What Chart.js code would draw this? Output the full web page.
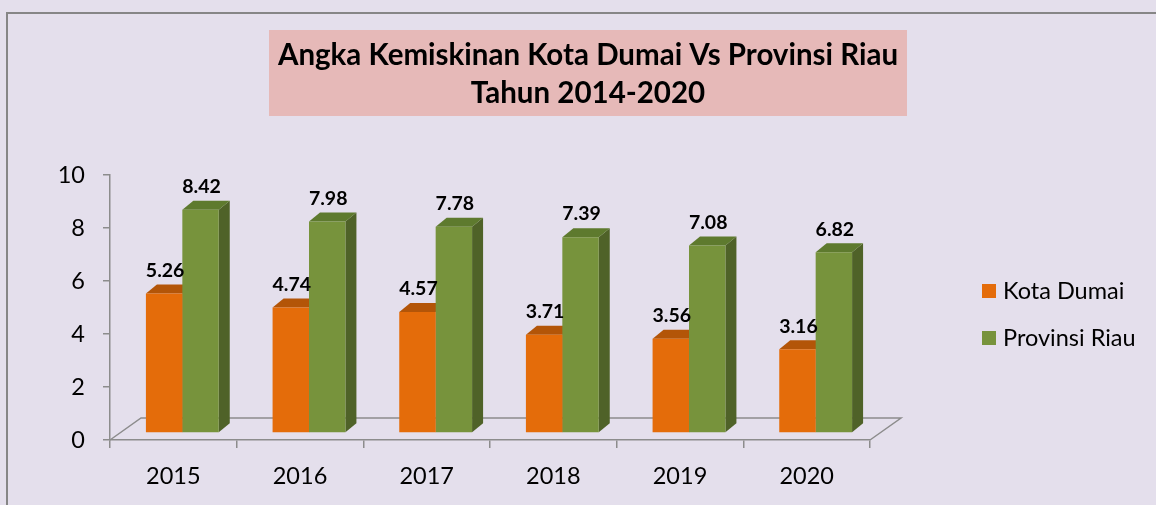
<!DOCTYPE html>
<html>
<head>
<meta charset="utf-8">
<script src="https://cdn.jsdelivr.net/npm/chart.js@4.4.1/dist/chart.umd.min.js"></script>
<style>
  html, body { margin: 0; padding: 0; background: #ffffff; }
  #wrap { width: 1156px; height: 505px; }
</style>
</head>
<body>
<div id="wrap"><canvas id="povertyChart" width="1156" height="505"></canvas></div>
<script>
const categories = ['2015', '2016', '2017', '2018', '2019', '2020'];
const kotaDumai = [5.26, 4.74, 4.57, 3.71, 3.56, 3.16];
const provinsiRiau = [8.42, 7.98, 7.78, 7.39, 7.08, 6.82];
const yTicks = [0, 2, 4, 6, 8, 10];
const seriesNames = ['Kota Dumai', 'Provinsi Riau'];
const titleLines = ['Angka Kemiskinan Kota Dumai Vs Provinsi Riau', 'Tahun 2014-2020'];

const FONT = 'Lato, "Open Sans", sans-serif';
const BG = '#E4DFEC';
const AXIS = '#8C8C8C';

// face colours for the fake 3d bars: [front, top, side]
const faceColors = [
    ['#E46C0A', '#B35508', '#A44E08'],
    ['#77933C', '#5E7A2E', '#4F6228']
];

// bar offset into the depth of the floor, and the bar's own depth
const shift = { x: 9, y: -7 };
const depth = { x: 11, y: -9 };
const floorDepth = { x: 31, y: -22 };

function poly(ctx, pts, color) {
    ctx.beginPath();
    ctx.moveTo(pts[0][0], pts[0][1]);
    for (let i = 1; i < pts.length; i++) ctx.lineTo(pts[i][0], pts[i][1]);
    ctx.closePath();
    ctx.fillStyle = color;
    ctx.fill();
}

const decorPlugin = {
    id: 'decor',
    beforeDraw(chart) {
        const ctx = chart.ctx;
        const area = chart.chartArea;
        ctx.save();
        ctx.fillStyle = BG;
        ctx.fillRect(0, 0, chart.width, chart.height);

        // outer frame (only top and left edges are visible)
        ctx.strokeStyle = '#868686';
        ctx.lineWidth = 2;
        ctx.beginPath();
        ctx.moveTo(7, chart.height);
        ctx.lineTo(7, 13);
        ctx.lineTo(chart.width, 13);
        ctx.stroke();

        // title box
        ctx.fillStyle = '#E6B9B8';
        ctx.fillRect(269, 30, 638, 86);
        ctx.fillStyle = '#000000';
        ctx.font = 'bold 29.5px ' + FONT;
        ctx.textAlign = 'center';
        ctx.textBaseline = 'middle';
        ctx.fillText(titleLines[0], 588, 55);
        ctx.fillText(titleLines[1], 588, 93);

        // floor of the 3d plot
        const y0 = chart.scales.y.getPixelForValue(0);
        ctx.strokeStyle = AXIS;
        ctx.lineWidth = 1.5;
        ctx.beginPath();
        ctx.moveTo(area.left, y0);
        ctx.lineTo(area.left + floorDepth.x, y0 + floorDepth.y);
        ctx.lineTo(area.right + floorDepth.x, y0 + floorDepth.y);
        ctx.lineTo(area.right, y0);
        ctx.stroke();
        ctx.restore();
    },
    beforeDatasetsDraw(chart) {
        const ctx = chart.ctx;
        ctx.save();
        ctx.translate(shift.x, shift.y);
        chart.data.datasets.forEach((ds, i) => {
            chart.getDatasetMeta(i).data.forEach(bar => {
                const l = bar.x - bar.width / 2;
                const r = bar.x + bar.width / 2;
                const t = bar.y;
                const b = bar.base;
                poly(ctx, [[r, t], [r + depth.x, t + depth.y], [r + depth.x, b + depth.y], [r, b]], faceColors[i][2]);
                poly(ctx, [[l, t], [r, t], [r + depth.x, t + depth.y], [l + depth.x, t + depth.y]], faceColors[i][1]);
            });
        });
    },
    afterDatasetsDraw(chart) {
        const ctx = chart.ctx;
        ctx.fillStyle = '#000000';
        ctx.font = 'bold 19.5px ' + FONT;
        ctx.textAlign = 'center';
        ctx.textBaseline = 'middle';
        chart.data.datasets.forEach((ds, i) => {
            chart.getDatasetMeta(i).data.forEach((bar, j) => {
                ctx.fillText(ds.data[j].toFixed(2), bar.x + 1, bar.y - 23);
            });
        });
        ctx.restore();
    },
    afterDraw(chart) {
        const ctx = chart.ctx;
        ctx.save();
        ctx.font = '23.5px ' + FONT;
        ctx.textAlign = 'left';
        ctx.textBaseline = 'middle';
        const rows = [291, 338];
        seriesNames.forEach((name, i) => {
            ctx.fillStyle = faceColors[i][0];
            ctx.fillRect(982, rows[i] - 7, 14, 14);
            ctx.fillStyle = '#000000';
            ctx.fillText(name, 1003, rows[i]);
        });
        ctx.restore();
    }
};

const ctx = document.getElementById('povertyChart').getContext('2d');

new Chart(ctx, {
    type: 'bar',
    data: {
        labels: categories,
        datasets: [{
            label: seriesNames[0],
            data: kotaDumai,
            backgroundColor: faceColors[0][0],
            categoryPercentage: 0.575,
            barPercentage: 1.0,
            clip: false
        }, {
            label: seriesNames[1],
            data: provinsiRiau,
            backgroundColor: faceColors[1][0],
            categoryPercentage: 0.575,
            barPercentage: 1.0,
            clip: false
        }]
    },
    options: {
        responsive: false,
        animation: false,
        layout: {
            padding: { top: 175, right: 286, bottom: 0, left: 0 }
        },
        plugins: {
            legend: { display: false },
            tooltip: { enabled: false }
        },
        scales: {
            x: {
                afterFit(scale) { scale.height = 65; },
                grid: {
                    offset: true,
                    drawOnChartArea: false,
                    tickLength: 8,
                    color: AXIS,
                    lineWidth: 1.5
                },
                border: { color: AXIS, width: 1.5 },
                ticks: {
                    color: '#000000',
                    font: { family: FONT, size: 23.5 },
                    padding: 14
                }
            },
            y: {
                min: 0,
                max: 10,
                afterFit(scale) { scale.width = 110; },
                afterBuildTicks(scale) {
                    scale.ticks = yTicks.map(v => ({ value: v }));
                },
                grid: {
                    drawOnChartArea: false,
                    tickLength: 7,
                    color: AXIS,
                    lineWidth: 1.5
                },
                border: { color: AXIS, width: 1.5 },
                ticks: {
                    color: '#000000',
                    font: { family: FONT, size: 23.5 },
                    padding: 18
                }
            }
        }
    },
    plugins: [decorPlugin]
});
</script>
</body>
</html>
